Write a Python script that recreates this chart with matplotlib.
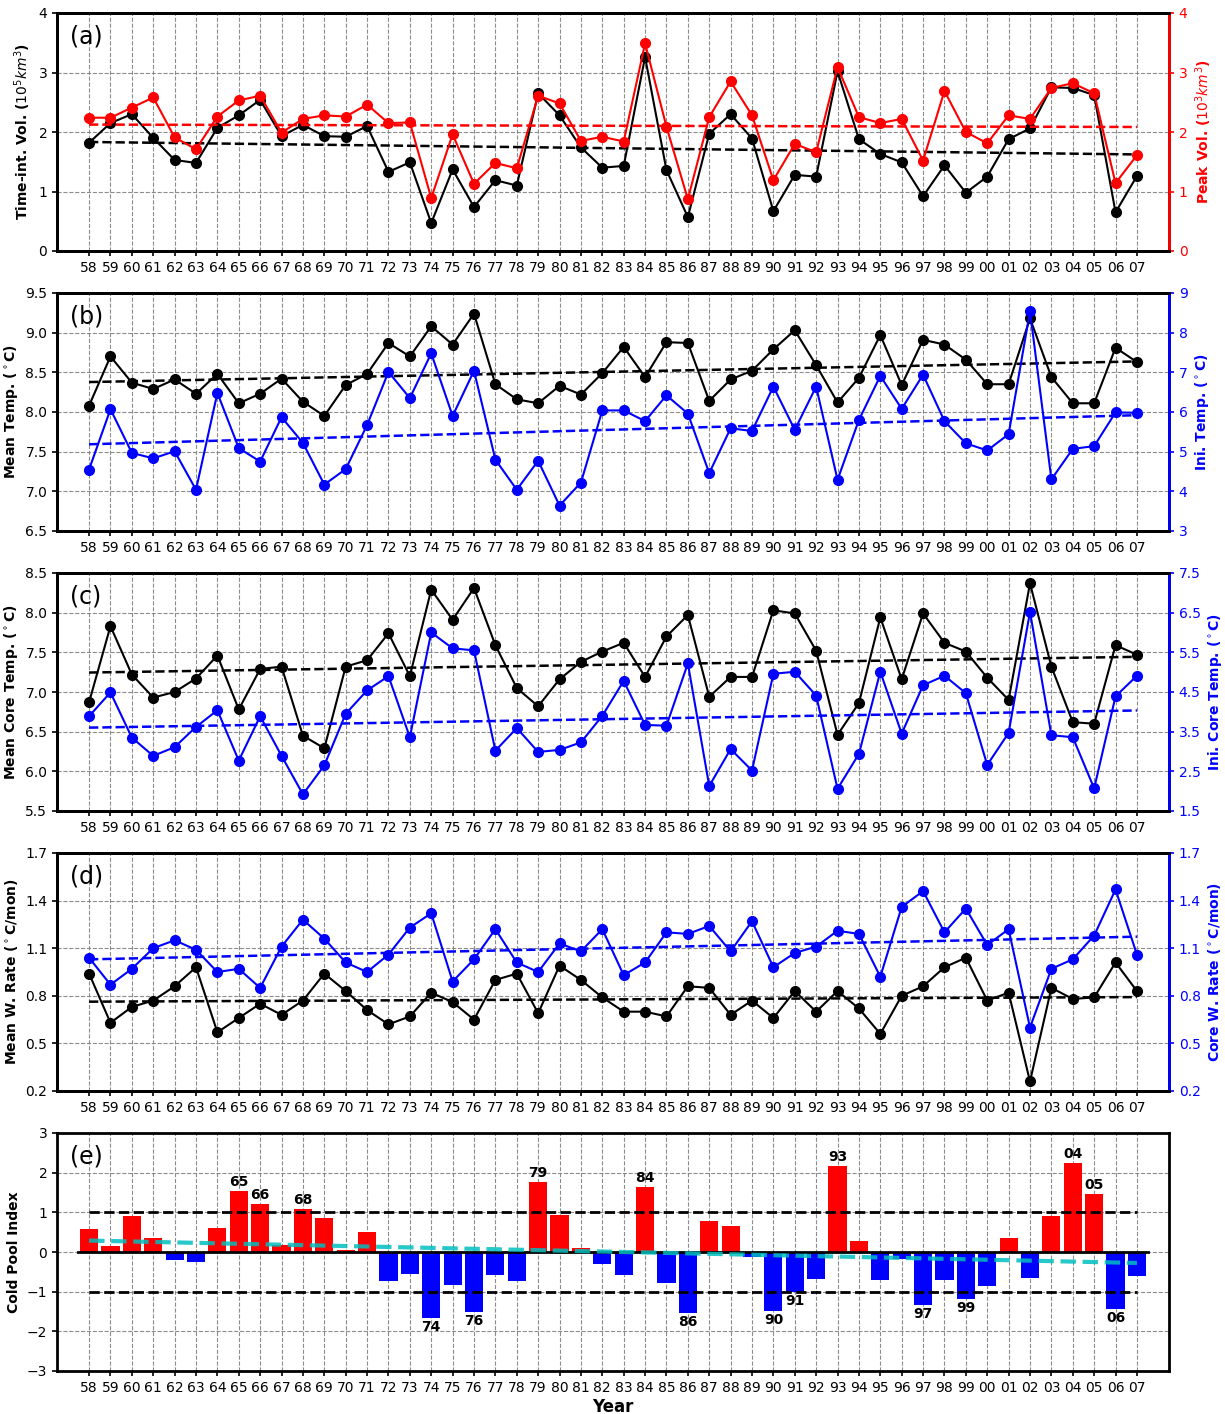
import numpy as np
import matplotlib
matplotlib.use("Agg")
import matplotlib.pyplot as plt

YEARS = ["58", "59", "60", "61", "62", "63", "64", "65", "66", "67",
         "68", "69", "70", "71", "72", "73", "74", "75", "76", "77",
         "78", "79", "80", "81", "82", "83", "84", "85", "86", "87",
         "88", "89", "90", "91", "92", "93", "94", "95", "96", "97",
         "98", "99", "00", "01", "02", "03", "04", "05", "06", "07"]

# (a) time-integrated volume (1e5 km3) and peak volume (1e3 km3)
time_int_vol = [1.82, 2.15, 2.30, 1.90, 1.53, 1.48, 2.07, 2.28, 2.54, 1.93,
                2.12, 1.93, 1.92, 2.10, 1.33, 1.49, 0.47, 1.37, 0.74, 1.19,
                1.10, 2.65, 2.28, 1.74, 1.40, 1.43, 3.26, 1.36, 0.57, 1.97,
                2.30, 1.89, 0.67, 1.28, 1.25, 3.02, 1.88, 1.63, 1.49, 0.92,
                1.44, 0.98, 1.25, 1.88, 2.06, 2.75, 2.74, 2.62, 0.65, 1.26]
peak_vol = [2.24, 2.24, 2.41, 2.58, 1.91, 1.71, 2.26, 2.53, 2.61, 1.99,
            2.22, 2.28, 2.26, 2.46, 2.15, 2.16, 0.89, 1.96, 1.13, 1.48,
            1.39, 2.61, 2.48, 1.85, 1.92, 1.84, 3.49, 2.09, 0.87, 2.25,
            2.85, 2.28, 1.19, 1.80, 1.66, 3.09, 2.25, 2.15, 2.22, 1.52,
            2.69, 2.00, 1.81, 2.28, 2.22, 2.74, 2.82, 2.65, 1.14, 1.61]

# (b) mean temperature and initial temperature (deg C)
mean_temp = [8.08, 8.70, 8.37, 8.29, 8.41, 8.23, 8.48, 8.11, 8.23, 8.42,
             8.13, 7.95, 8.34, 8.48, 8.87, 8.70, 9.08, 8.85, 9.24, 8.35,
             8.16, 8.11, 8.33, 8.22, 8.49, 8.82, 8.44, 8.88, 8.87, 8.14,
             8.41, 8.52, 8.79, 9.03, 8.59, 8.12, 8.43, 8.97, 8.34, 8.91,
             8.85, 8.66, 8.35, 8.35, 9.18, 8.44, 8.11, 8.11, 8.81, 8.63]
ini_temp = [4.55, 6.07, 4.97, 4.83, 5.01, 4.04, 6.48, 5.09, 4.75, 5.87,
            5.22, 4.17, 4.56, 5.67, 7.01, 6.35, 7.48, 5.90, 7.04, 4.80,
            4.04, 4.77, 3.64, 4.22, 6.04, 6.04, 5.77, 6.42, 5.96, 4.46,
            5.59, 5.52, 6.64, 5.55, 6.64, 4.29, 5.80, 6.91, 6.08, 6.94,
            5.77, 5.21, 5.03, 5.44, 8.54, 4.30, 5.07, 5.14, 5.99, 5.98]

# (c) mean core temperature and initial core temperature (deg C)
core_temp = [6.87, 7.83, 7.22, 6.93, 7.00, 7.17, 7.46, 6.78, 7.29, 7.32,
             6.45, 6.29, 7.32, 7.40, 7.74, 7.20, 8.29, 7.91, 8.31, 7.59,
             7.05, 6.82, 7.16, 7.38, 7.51, 7.62, 7.19, 7.70, 7.97, 6.94,
             7.19, 7.19, 8.03, 7.99, 7.52, 6.46, 6.86, 7.94, 7.16, 7.99,
             7.62, 7.51, 7.18, 6.90, 8.37, 7.32, 6.62, 6.60, 7.59, 7.47]
ini_core_temp = [3.89, 4.49, 3.35, 2.89, 3.11, 3.62, 4.04, 2.77, 3.89, 2.89,
                 1.92, 2.65, 3.95, 4.54, 4.90, 3.36, 6.00, 5.60, 5.55, 3.02,
                 3.59, 2.99, 3.04, 3.23, 3.90, 4.78, 3.67, 3.65, 5.22, 2.13,
                 3.06, 2.52, 4.96, 5.01, 4.41, 2.06, 2.94, 5.01, 3.45, 4.67,
                 4.91, 4.47, 2.66, 3.47, 6.52, 3.41, 3.36, 2.07, 4.39, 4.91]

# (d) mean warming rate and core warming rate (deg C / month)
mean_rate = [0.94, 0.63, 0.73, 0.77, 0.86, 0.98, 0.57, 0.66, 0.75, 0.68,
             0.77, 0.94, 0.83, 0.71, 0.62, 0.67, 0.82, 0.76, 0.65, 0.90,
             0.94, 0.69, 0.99, 0.90, 0.79, 0.70, 0.70, 0.67, 0.86, 0.85,
             0.68, 0.77, 0.66, 0.83, 0.70, 0.83, 0.72, 0.56, 0.80, 0.86,
             0.98, 1.04, 0.77, 0.82, 0.26, 0.85, 0.78, 0.79, 1.01, 0.83]
core_rate = [1.04, 0.87, 0.97, 1.10, 1.15, 1.09, 0.95, 0.97, 0.85, 1.11,
             1.28, 1.16, 1.01, 0.95, 1.06, 1.23, 1.32, 0.89, 1.03, 1.22,
             1.01, 0.95, 1.13, 1.08, 1.22, 0.93, 1.01, 1.20, 1.19, 1.24,
             1.08, 1.27, 0.98, 1.07, 1.11, 1.21, 1.19, 0.92, 1.36, 1.46,
             1.20, 1.35, 1.12, 1.22, 0.60, 0.97, 1.03, 1.18, 1.47, 1.06]

# (e) cold pool index
cold_pool = [0.58, 0.15, 0.91, 0.35, -0.19, -0.24, 0.61, 1.54, 1.21, 0.17,
             1.09, 0.86, 0.05, 0.51, -0.72, -0.55, -1.66, -0.83, -1.51, -0.57,
             -0.72, 1.77, 0.94, 0.10, -0.29, -0.57, 1.64, -0.78, -1.53, 0.78,
             0.66, -0.12, -1.48, -1.01, -0.67, 2.17, 0.28, -0.70, -0.17, -1.33,
             -0.70, -1.18, -0.85, 0.35, -0.65, 0.91, 2.25, 1.47, -1.43, -0.60]

x = np.arange(len(YEARS))
FIG_H = 1414.0
TOPS = [13, 293, 573, 853, 1133]
AX_H = 238

fig = plt.figure(figsize=(12.25, 14.14), dpi=100)


def make_ax(i):
    top = TOPS[i]
    ax = fig.add_axes([57 / 1225, 1 - (top + AX_H) / FIG_H, 1112 / 1225, AX_H / FIG_H])
    ax.set_xlim(-1.5, len(x) + 0.5)
    ax.set_xticks(x)
    ax.set_xticklabels(YEARS)
    ax.grid(True, ls="--", color="gray", lw=0.8, alpha=0.9)
    ax.set_axisbelow(True)
    for s in ax.spines.values():
        s.set_linewidth(2)
    ax.tick_params(labelsize=10, width=1.2)
    return ax


def trend(vals):
    k, b = np.polyfit(x, vals, 1)
    return k * x + b


def pair_panel(i, left, right, rcolor, ylim_l, yt_l, ylim_r, yt_r,
               lab_l, lab_r, tag, fmt_l, fmt_r):
    ax = make_ax(i)
    ax2 = ax.twinx()
    ax.plot(x, left, "-o", color="k", lw=1.5, ms=7, zorder=3)
    ax.plot(x, trend(left), "--", color="k", lw=1.8, zorder=3)
    ax2.plot(x, right, "-o", color=rcolor, lw=1.5, ms=7, zorder=3)
    ax2.plot(x, trend(right), "--", color=rcolor, lw=1.8, zorder=3)
    ax.set_ylim(*ylim_l)
    ax.set_yticks(yt_l)
    ax.set_yticklabels([fmt_l % v for v in yt_l])
    ax2.set_ylim(*ylim_r)
    ax2.set_yticks(yt_r)
    ax2.set_yticklabels([fmt_r % v for v in yt_r])
    ax.set_ylabel(lab_l, fontsize=10, weight="bold")
    ax2.set_ylabel(lab_r, fontsize=10, weight="bold", color=rcolor)
    ax2.tick_params(axis="y", colors=rcolor, labelsize=10, width=1.2)
    for s in ax2.spines.values():
        s.set_linewidth(2)
    ax2.spines["right"].set_color(rcolor)
    ax.text(0.012, 0.9, tag, transform=ax.transAxes, fontsize=17, va="center")
    return ax, ax2


pair_panel(0, time_int_vol, peak_vol, "red", (0, 4), [0, 1, 2, 3, 4], (0, 4), [0, 1, 2, 3, 4],
           "Time-int. Vol. ($10^5km^3$)", "Peak Vol. ($10^3km^3$)", "(a)", "%d", "%d")
pair_panel(1, mean_temp, ini_temp, "blue", (6.5, 9.5), [6.5, 7.0, 7.5, 8.0, 8.5, 9.0, 9.5],
           (3, 9), [3, 4, 5, 6, 7, 8, 9],
           "Mean Temp. ($^\\circ$C)", "Ini. Temp. ($^\\circ$C)", "(b)", "%.1f", "%d")
pair_panel(2, core_temp, ini_core_temp, "blue", (5.5, 8.5), [5.5, 6.0, 6.5, 7.0, 7.5, 8.0, 8.5],
           (1.5, 7.5), [1.5, 2.5, 3.5, 4.5, 5.5, 6.5, 7.5],
           "Mean Core Temp. ($^\\circ$C)", "Ini. Core Temp. ($^\\circ$C)", "(c)", "%.1f", "%.1f")
pair_panel(3, mean_rate, core_rate, "blue", (0.2, 1.7), [0.2, 0.5, 0.8, 1.1, 1.4, 1.7],
           (0.2, 1.7), [0.2, 0.5, 0.8, 1.1, 1.4, 1.7],
           "Mean W. Rate ($^\\circ$C/mon)", "Core W. Rate ($^\\circ$C/mon)", "(d)", "%.1f", "%.1f")

# (e) cold pool index bars
ax = make_ax(4)
cp = np.array(cold_pool)
colors = ["red" if v > 0 else "blue" for v in cp]
ax.bar(x, cp, width=0.85, color=colors, zorder=2)
ax.plot([-0.5, len(x) - 0.5], [0, 0], color="k", lw=2, zorder=3)
ax.plot([0, len(x) - 1], [1, 1], "--", color="k", lw=2, zorder=3)
ax.plot([0, len(x) - 1], [-1, -1], "--", color="k", lw=2, zorder=3)
ax.plot(x, trend(cp), "--", color="c", lw=3, alpha=0.85, zorder=4)
for xi, v, lab in zip(x, cp, YEARS):
    if v > 1:
        ax.text(xi, v + 0.05, lab, ha="center", va="bottom", fontsize=10, weight="bold")
    elif v < -1:
        ax.text(xi, v - 0.05, lab, ha="center", va="top", fontsize=10, weight="bold")
ax.set_ylim(-3, 3)
ax.set_yticks([-3, -2, -1, 0, 1, 2, 3])
ax.set_ylabel("Cold Pool Index", fontsize=10, weight="bold")
ax.set_xlabel("Year", fontsize=12, weight="bold", labelpad=2)
ax.text(0.012, 0.9, "(e)", transform=ax.transAxes, fontsize=17, va="center")

fig.savefig("out.png", dpi=100)
